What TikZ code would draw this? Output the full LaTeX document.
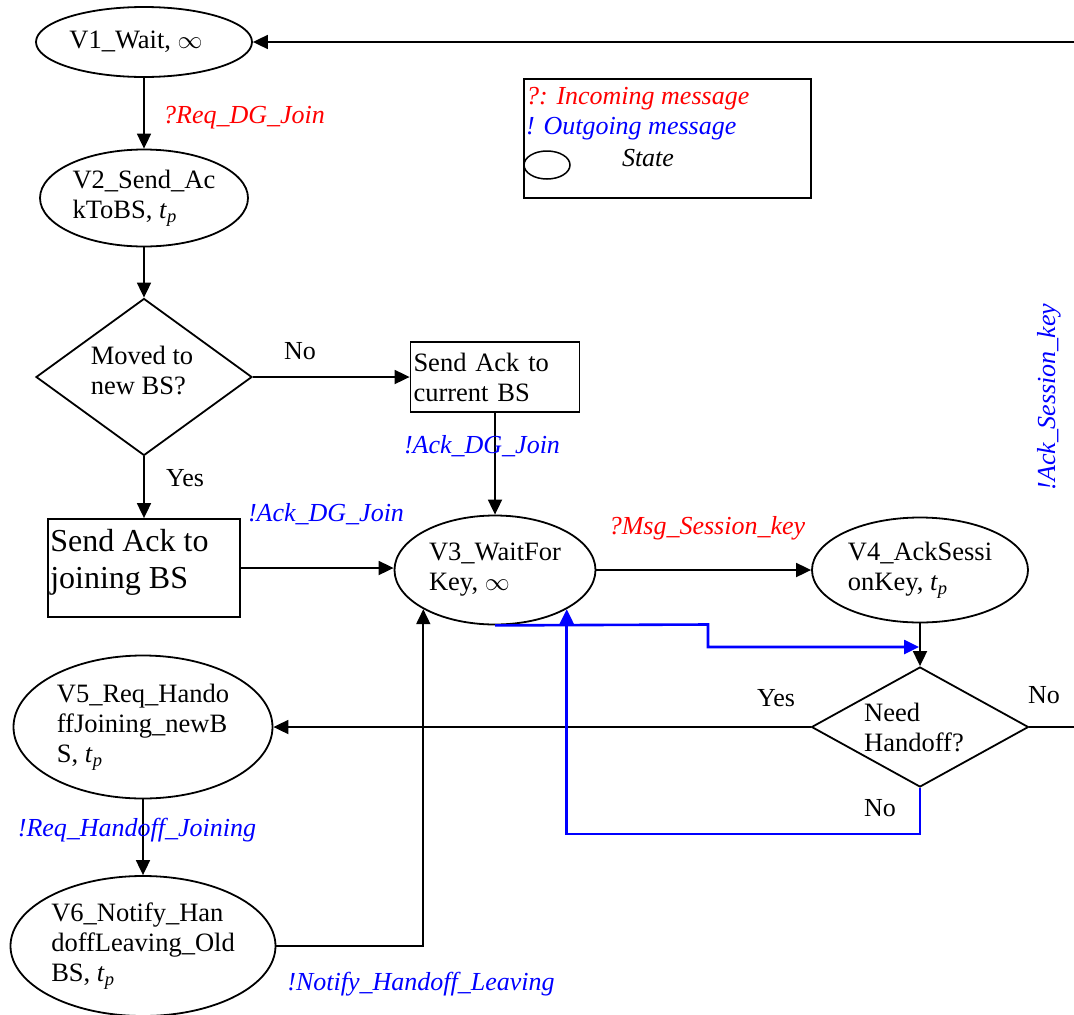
\documentclass[tikz,border=0pt]{standalone}
\usepackage{fontspec}
\setmainfont{Liberation Serif}
\usetikzlibrary{shapes.geometric,arrows.meta,calc}
\definecolor{msgred}{RGB}{255,0,0}
\definecolor{msgblue}{RGB}{0,0,255}
\newcommand{\tpsub}{\textit{t}\textsubscript{\textit{p}}}
\begin{document}
\begin{tikzpicture}[x=1pt,y=-1pt,
  every node/.style={font=\fontsize{26.5}{30}\selectfont},
  state/.style={draw,ellipse,line width=1.8pt,inner sep=0pt,align=left},
  decision/.style={draw,diamond,line width=1.8pt,inner sep=0pt,align=left},
  action/.style={draw,rectangle,line width=1.8pt,inner sep=0pt},
  flow/.style={line width=1.8pt,-{Triangle[length=15pt,width=14pt]}},
  plainline/.style={line width=1.8pt},
  bflow/.style={line width=2.6pt,draw=msgblue,-{Triangle[length=15pt,width=14pt]}},
  inmsg/.style={text=msgred,font=\fontsize{26}{30}\selectfont\itshape},
  outmsg/.style={text=msgblue,font=\fontsize{26}{30}\selectfont\itshape},
  answer/.style={font=\fontsize{26}{30}\selectfont}]
\useasboundingbox (0,0) rectangle (1074,1015);

% states
\node[state,minimum width=216pt,minimum height=70pt] (v1) at (144,42) {V1\_Wait, $\infty$\hspace*{16pt}};
\node[state,minimum width=208pt,minimum height=97pt] (v2) at (144,198) {V2\_Send\_Ac\\kToBS, \tpsub};
\node[state,minimum width=201pt,minimum height=109pt] (v3) at (495,570) {V3\_WaitFor\\Key, $\infty$};
\node[state,minimum width=216pt,minimum height=105pt] (v4) at (920,570) {V4\_AckSessi\\onKey, \tpsub};
\node[state,minimum width=259pt,minimum height=143pt] (v5) at (143,727) {V5\_Req\_Hando\\ffJoining\_newB\\S, \tpsub};
\node[state,minimum width=265pt,minimum height=140pt] (v6) at (143,946) {V6\_Notify\_Han\\doffLeaving\_Old\\BS, \tpsub};

% decisions (outline, then the question set slightly high)
\node[decision,minimum width=216pt,minimum height=157pt] (d1) at (144,377) {};
\node[align=left,inner sep=0pt] (d1text) at ($(d1)+(-2,-7)$) {Moved to\\new BS?};
\node[decision,shape aspect=1.8,minimum width=217pt,minimum height=120pt] (d2) at (920,727) {};
\node[align=left,inner sep=0pt] (d2text) at ($(d2)+(-6,0)$) {Need\\Handoff?};

% actions
\node[action,minimum width=169pt,minimum height=70pt,text width=163pt,align=left] (cb) at (495,377) {Send Ack to\\current BS};
\node[action,minimum width=192pt,minimum height=98pt] (jb) at (144,568) {};
\node[anchor=north west,inner sep=0pt,align=left,font=\fontsize{32}{37}\selectfont] (jbtext) at ($(jb.north west)+(3,11)$) {Send Ack to\\joining BS};

% legend
\node[draw,line width=1.8pt,minimum width=287pt,minimum height=119pt] (lg) at (667.5,138.5) {};
\node[inmsg,anchor=west,inner sep=0pt] (lgin) at (526,99) {?: Incoming message};
\node[outmsg,anchor=west,inner sep=0pt] (lgout) at (526,129) {! Outgoing message};
\node[draw,ellipse,line width=1.5pt,minimum width=46pt,minimum height=28pt,inner sep=0pt] (lgstate) at (547,165) {};
\node[font=\fontsize{26}{30}\selectfont\itshape] (lgstatetext) at (648,158) {State};

% edge coordinates
\coordinate (inV1) at (1074,42);
\coordinate (outR) at (1074,727);
\coordinate (nbend1) at (920,834);
\coordinate (kbend1) at (708,624.5);
\coordinate (kbend2) at (708,647);
\coordinate (kend) at (919,647);

% connectors
\draw[flow] (inV1) -- (v1);
\draw[flow] (v1) -- (v2);
\draw[flow] (v2) -- (d1.north);
\draw[flow] (d1.east) -- (cb.west);
\draw[flow] (cb.south) -- (v3.north);
\draw[flow] (d1.south) -- (jb.north);
\draw[flow] (jb.east) -- (jb.east -| v3.west);
\draw[flow] (v3) -- (v4);
\draw[flow] (v4) -- (d2.north);
\draw[flow] (d2.west) -- (v5.east);
\draw[plainline] (d2.east) -- (outR);
\draw[flow] (v5) -- (v6);
\draw[flow] (v6.east) -| (v3.south west);
\draw[bflow] (d2.south) -- (nbend1) -| (v3.south east);
\draw[bflow] (v3.south) -- (kbend1) -- (kbend2) -- (kend);

% labels
\node[inmsg] (lreq) at (244,118) {?Req\_DG\_Join};
\node[answer] (lno1) at (300,351) {No};
\node[answer] (lyes1) at (185,478) {Yes};
\node[outmsg] (lack1) at (482,446) {!Ack\_DG\_Join};
\node[outmsg] (lack2) at (326,514) {!Ack\_DG\_Join};
\node[inmsg] (lmsg) at (707,528) {?Msg\_Session\_key};
\node[answer] (lyes2) at (776,698) {Yes};
\node[answer] (lno2) at (1044,695) {No};
\node[answer] (lno3) at (880,808) {No};
\node[outmsg,rotate=90] (lacksk) at (1049,397) {!Ack\_Session\_key};
\node[outmsg] (lreqh) at (137,830) {!Req\_Handoff\_Joining};
\node[outmsg] (lnotify) at (421,984) {!Notify\_Handoff\_Leaving};
\end{tikzpicture}
\end{document}
